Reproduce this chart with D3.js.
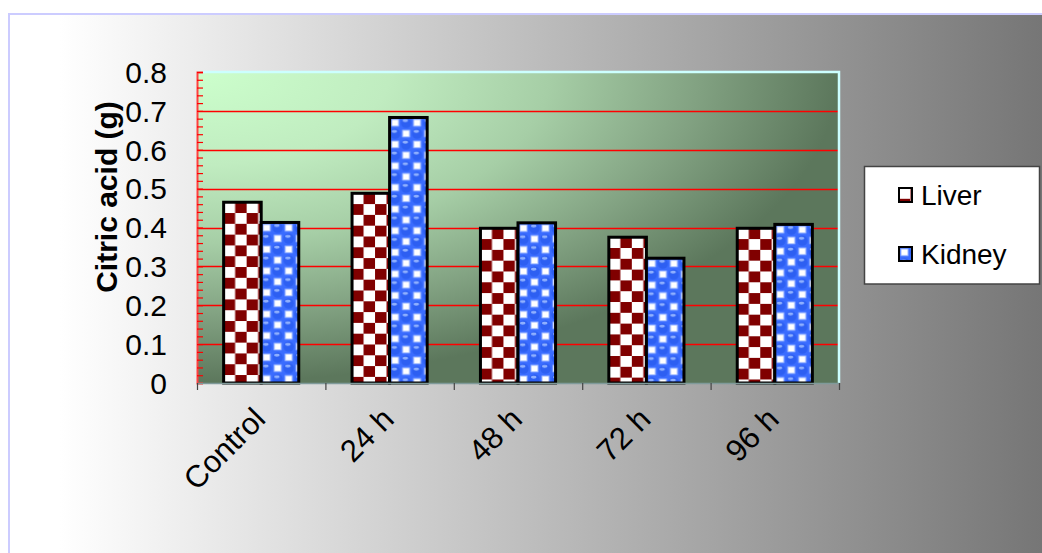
<!DOCTYPE html>
<html>
<head>
<meta charset="utf-8">
<script src="https://cdn.jsdelivr.net/npm/d3@7"></script>
<style>
  html, body { margin: 0; padding: 0; background: #fff; }
  svg { display: block; font-family: "Liberation Sans", Arial, sans-serif; }
</style>
</head>
<body>
<svg id="chart" width="1042" height="553"></svg>
<script>
// Citric acid content per tissue and time point
const categories = ["Control", "24 h", "48 h", "72 h", "96 h"];
const seriesNames = ["Liver", "Kidney"];
const liverValues = [0.465, 0.488, 0.398, 0.375, 0.398];
const kidneyValues = [0.413, 0.683, 0.412, 0.321, 0.408];
const yTicks = [0, 0.1, 0.2, 0.3, 0.4, 0.5, 0.6, 0.7, 0.8];
const yTitle = "Citric acid (g)";

const svg = d3.select("#chart");
const W = 1042, H = 553;
const plot = { left: 197, top: 72, right: 839, bottom: 383 };

const defs = svg.append("defs");

// Page background: white fading to grey on the right
const bgGrad = defs.append("linearGradient").attr("id", "bgGrad")
  .attr("gradientUnits", "userSpaceOnUse")
  .attr("x1", 60).attr("y1", 0).attr("x2", W).attr("y2", 0);
bgGrad.append("stop").attr("offset", 0).attr("stop-color", "#ffffff");
bgGrad.append("stop").attr("offset", 1).attr("stop-color", "#767676");

// Plot area: light green at the top-left corner, dark green away from it
const plotGrad = defs.append("radialGradient").attr("id", "plotGrad")
  .attr("cx", 0).attr("cy", 0).attr("r", 1).attr("fx", 0).attr("fy", 0);
[[0, "#ccffcc"], [0.3, "#c0ecc0"], [0.55, "#a6cea6"], [0.78, "#82a282"], [1, "#5c775c"]]
  .forEach(([o, c]) => plotGrad.append("stop").attr("offset", o).attr("stop-color", c));

// Liver fill: dark red / white checkerboard
const cw = 11.5, ch = 10.8;
const checker = defs.append("pattern").attr("id", "patLiver")
  .attr("patternUnits", "userSpaceOnUse").attr("width", cw * 2).attr("height", ch * 2);
checker.append("rect").attr("width", cw * 2).attr("height", ch * 2).attr("fill", "#fff");
checker.append("rect").attr("x", cw).attr("y", 0).attr("width", cw).attr("height", ch).attr("fill", "#800000");
checker.append("rect").attr("x", 0).attr("y", ch).attr("width", cw).attr("height", ch).attr("fill", "#800000");

// Kidney fill: blue bubbles with small white squares
const kw = 22, kh = 21.6;
const bubble = defs.append("pattern").attr("id", "patKidney")
  .attr("patternUnits", "userSpaceOnUse").attr("width", kw).attr("height", kh);
bubble.append("rect").attr("width", kw).attr("height", kh).attr("fill", "#3a6cff");
[[2.5, 2.5], [13.5, 13.3]].forEach(([x, y]) => {
  bubble.append("rect").attr("x", x - 1).attr("y", y - 1).attr("width", 8).attr("height", 7.6).attr("fill", "#9db8ff");
  bubble.append("rect").attr("x", x).attr("y", y).attr("width", 6).attr("height", 5.6).attr("fill", "#ffffff");
});
[[16.5, 5.4], [5.5, 16.2]].forEach(([x, y]) => {
  bubble.append("circle").attr("cx", x).attr("cy", y).attr("r", 5.2).attr("fill", "#2d5ff2");
  bubble.append("ellipse").attr("cx", x - 0.8).attr("cy", y - 2.2).attr("rx", 2.8).attr("ry", 1.4).attr("fill", "#8fb0ff");
});

// Background panel
svg.append("rect").attr("x", 0).attr("y", 0).attr("width", W).attr("height", H).attr("fill", "#fff");
svg.append("rect").attr("x", 9).attr("y", 14).attr("width", W - 9).attr("height", H - 14)
  .attr("fill", "url(#bgGrad)");
svg.append("path").attr("d", `M9,${H} V14 H${W}`).attr("fill", "none")
  .attr("stroke", "#ccccff").attr("stroke-width", 2);

// Scales
const y = d3.scaleLinear().domain([0, 0.8]).range([plot.bottom, plot.top]);
const x0 = d3.scaleBand().domain(categories).range([plot.left, plot.right])
  .paddingInner(0.415).paddingOuter(0.2075);
const x1 = d3.scaleBand().domain(seriesNames).range([0, x0.bandwidth()]).padding(0);

// Plot area
svg.append("rect").attr("x", plot.left).attr("y", plot.top)
  .attr("width", plot.right - plot.left).attr("height", plot.bottom - plot.top)
  .attr("fill", "url(#plotGrad)");

// Red gridlines
svg.append("g").selectAll("line").data(yTicks.filter(t => t > 0 && t < 0.8)).join("line")
  .attr("x1", plot.left).attr("x2", plot.right)
  .attr("y1", d => Math.round(y(d)) + 0.5).attr("y2", d => Math.round(y(d)) + 0.5)
  .attr("stroke", "#ff0000").attr("stroke-width", 1.3);

// Top and right edges of the plot area
svg.append("path")
  .attr("d", `M${plot.left},${plot.top} H${plot.right} V${plot.bottom}`)
  .attr("fill", "none").attr("stroke", "#ccffff").attr("stroke-width", 2.5);

// Bars
const rows = categories.map((c, i) => ({ cat: c, vals: [liverValues[i], kidneyValues[i]] }));
const groups = svg.append("g").selectAll("g").data(rows).join("g")
  .attr("transform", d => `translate(${x0(d.cat)},0)`);
groups.selectAll("g").data(d => d.vals.map((v, j) => ({ name: seriesNames[j], v }))).join("g")
  .attr("transform", d => `translate(${x1(d.name)},${y(d.v)})`)
  .append("rect")
  .attr("x", 0).attr("y", 0)
  .attr("width", x1.bandwidth())
  .attr("height", d => y(0) - y(d.v))
  .attr("fill", d => d.name === "Liver" ? "url(#patLiver)" : "url(#patKidney)")
  .attr("stroke", "#000").attr("stroke-width", 3);

// Y axis (red) with minor ticks every 0.02
const yAxis = d3.axisLeft(y).tickValues(d3.range(0, 0.8001, 0.02)).tickSize(-6).tickFormat("");
const gy = svg.append("g").attr("transform", `translate(${plot.left},0)`).call(yAxis);
gy.select(".domain").attr("stroke", "#ff4040").attr("stroke-width", 2);
gy.selectAll(".tick line").attr("stroke", "#ff0000").attr("stroke-width", 1.2);

// Y tick labels
svg.append("g").selectAll("text").data(yTicks).join("text")
  .attr("x", 167).attr("y", d => y(d)).attr("dy", "0.36em")
  .attr("text-anchor", "end").attr("font-size", 30).attr("fill", "#000")
  .text(d => d === 0 ? "0" : d3.format(".1f")(d));

// X axis with ticks between categories
const xB = d3.scaleLinear().domain([0, categories.length]).range([plot.left, plot.right]);
const gx = svg.append("g").attr("transform", `translate(0,${plot.bottom})`)
  .call(d3.axisBottom(xB).ticks(categories.length).tickSizeOuter(0).tickSizeInner(7).tickFormat(""));
gx.select(".domain").attr("stroke", "#7f9a9a").attr("stroke-width", 1.5);
gx.selectAll(".tick line").attr("stroke", "#444").attr("stroke-width", 1.2);

// Category labels, rotated
svg.append("g").selectAll("text").data(categories).join("text")
  .attr("transform", d => `translate(${x0(d) + x0.bandwidth() / 2 + 6},${plot.bottom + 38}) rotate(-45)`)
  .attr("text-anchor", "end").attr("font-size", 31).attr("fill", "#000")
  .text(d => d);

// Axis title
svg.append("text")
  .attr("transform", `translate(117,197) rotate(-90)`)
  .attr("text-anchor", "middle").attr("font-size", 30).attr("font-weight", "bold")
  .attr("fill", "#000").text(yTitle);

// Legend
const legend = svg.append("g");
legend.append("rect").attr("x", 864.5).attr("y", 166.5).attr("width", 175).attr("height", 117.5)
  .attr("fill", "#fff").attr("stroke", "#444").attr("stroke-width", 1.5);
const legendRows = seriesNames.map((n, i) => ({ n, y: [188, 247][i] }));
const li = legend.selectAll("g.item").data(legendRows).join("g").attr("class", "item")
  .attr("transform", d => `translate(899,${d.y})`);
li.append("rect").attr("width", 13).attr("height", 14)
  .attr("fill", d => d.n === "Liver" ? "url(#patLiver)" : "url(#patKidney)")
  .attr("stroke", "#000").attr("stroke-width", 2);
li.append("text").attr("x", 22).attr("y", 17).attr("font-size", 28).attr("fill", "#000")
  .text(d => d.n);
</script>
</body>
</html>
